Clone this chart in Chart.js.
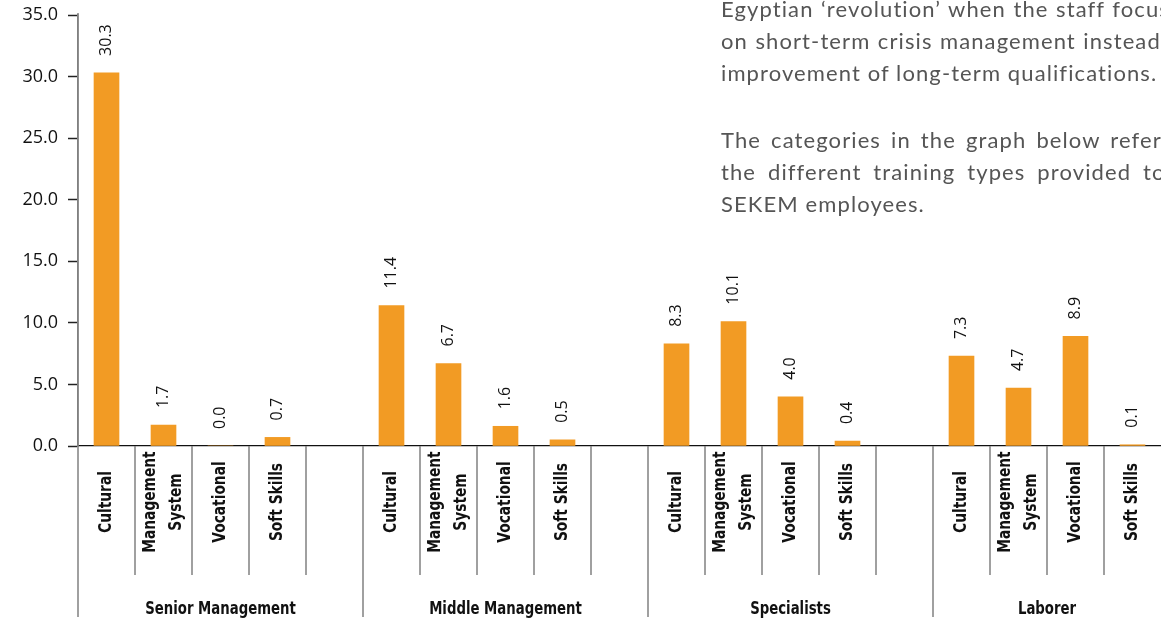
<!DOCTYPE html>
<html>
<head>
<meta charset="utf-8">
<script src="https://cdn.jsdelivr.net/npm/chart.js@4.4.1/dist/chart.umd.min.js"></script>
<style>
  html, body { margin: 0; padding: 0; background: #fff; overflow: hidden; }
  #wrap { position: absolute; left: 0; top: 0; width: 1161px; height: 620px; }
  .txt { position: absolute; left: 721px; white-space: nowrap; font-family: Lato, sans-serif;
         font-size: 22px; letter-spacing: 1.1px; line-height: 32px; color: #555; }
</style>
</head>
<body>
<div id="wrap"><canvas id="trainingChart"></canvas></div>
<div class="txt" style="top:-7px;" data-last="1112">Egyptian ‘revolution’ when the staff focused</div>
<div class="txt" style="top:25px;" data-last="1083">on short-term crisis management instead</div>
<div class="txt" style="top:57px;">improvement of long-term qualifications.</div>
<div class="txt" style="top:124px;" data-last="1110">The categories in the graph below refer</div>
<div class="txt" style="top:156px;" data-last="1143">the different training types provided to</div>
<div class="txt" style="top:188px;">SEKEM employees.</div>
<script>
document.addEventListener("DOMContentLoaded", function () {
    const groups = ['Senior Management', 'Middle Management', 'Specialists', 'Laborer'];
    const trainingTypes = ['Cultural', ['Management', 'System'], 'Vocational', 'Soft Skills'];
    const seniorValues = [30.3, 1.7, 0.0, 0.7];
    const middleValues = [11.4, 6.7, 1.6, 0.5];
    const specialistValues = [8.3, 10.1, 4.0, 0.4];
    const laborerValues = [7.3, 4.7, 8.9, 0.1];
    const yTicks = [0, 5, 10, 15, 20, 25, 30, 35];

    const groupValues = [seniorValues, middleValues, specialistValues, laborerValues];

    // justified paragraph lines: stretch the word gaps so the last word lands where it does in the page
    document.querySelectorAll('.txt[data-last]').forEach(function (el) {
        const words = el.textContent.split(' ');
        const lastWord = words.pop();
        el.textContent = words.join(' ') + ' ';
        const span = document.createElement('span');
        span.textContent = lastWord;
        el.appendChild(span);
        const target = Number(el.dataset.last) - 721;
        const extra = (target - span.offsetLeft) / words.length;
        el.style.wordSpacing = extra + 'px';
    });

    // flatten into slots, with an empty spacer slot between groups
    const labels = [];
    const values = [];
    const groupOf = [];
    groups.forEach(function (g, gi) {
        trainingTypes.forEach(function (t, ti) {
            labels.push(t);
            values.push(groupValues[gi][ti]);
            groupOf.push(gi);
        });
        if (gi < groups.length - 1) {
            labels.push('');
            values.push(null);
            groupOf.push(gi);
        }
    });

    const condensed = '"Liberation Sans Narrow", "DejaVu Sans Condensed", sans-serif';
    const lineColor = '#808080';

    const valueLabels = {
        id: 'valueLabels',
        afterDatasetsDraw(chart) {
            const ctx = chart.ctx;
            const meta = chart.getDatasetMeta(0);
            ctx.save();
            ctx.font = '16px "Open Sans", sans-serif';
            ctx.fillStyle = '#111';
            ctx.textAlign = 'left';
            ctx.textBaseline = 'middle';
            meta.data.forEach(function (bar, i) {
                const v = chart.data.datasets[0].data[i];
                if (v === null) return;
                ctx.save();
                ctx.translate(bar.x, bar.y - 17);
                ctx.rotate(-Math.PI / 2);
                ctx.fillText(v.toFixed(1), 0, 0);
                ctx.restore();
            });
            ctx.restore();
        }
    };

    const categoryAxis = {
        id: 'categoryAxis',
        afterDraw(chart) {
            const ctx = chart.ctx;
            const x = chart.scales.x;
            const area = chart.chartArea;
            const n = labels.length;
            ctx.save();
            ctx.strokeStyle = lineColor;
            ctx.lineWidth = 1.5;

            // left axis continues down to the group labels
            ctx.beginPath();
            ctx.moveTo(area.left, area.top - 2);
            ctx.lineTo(area.left, 617);
            ctx.stroke();

            for (let i = 0; i < n - 1; i++) {
                const bx = (x.getPixelForValue(i) + x.getPixelForValue(i + 1)) / 2;
                const isGroupEdge = groupOf[i] !== groupOf[i + 1];
                ctx.beginPath();
                ctx.moveTo(bx, area.bottom);
                ctx.lineTo(bx, isGroupEdge ? 617 : 575);
                ctx.stroke();
            }

            // rotated training type labels
            ctx.fillStyle = '#111';
            ctx.font = 'bold 17px ' + condensed;
            ctx.textAlign = 'center';
            ctx.textBaseline = 'middle';
            labels.forEach(function (lab, i) {
                if (lab === '') return;
                const lines = Array.isArray(lab) ? lab : [lab];
                const cx = x.getPixelForValue(i);
                ctx.save();
                ctx.translate(cx, 502);
                ctx.rotate(-Math.PI / 2);
                ctx.scale(0.9, 1);
                lines.forEach(function (ln, li) {
                    const off = (li - (lines.length - 1) / 2) * 26;
                    ctx.fillText(ln, 0, off);
                });
                ctx.restore();
            });

            // group names
            ctx.font = 'bold 18px ' + condensed;
            ctx.textBaseline = 'alphabetic';
            groups.forEach(function (g, gi) {
                const first = groupOf.indexOf(gi);
                const last = groupOf.lastIndexOf(gi);
                const left = first === 0 ? area.left : (x.getPixelForValue(first - 1) + x.getPixelForValue(first)) / 2;
                const right = last === n - 1 ? area.right : (x.getPixelForValue(last) + x.getPixelForValue(last + 1)) / 2;
                ctx.save();
                ctx.translate((left + right) / 2, 614);
                ctx.scale(0.82, 1);
                ctx.fillText(g, 0, 0);
                ctx.restore();
            });
            ctx.restore();
        }
    };

    new Chart(document.getElementById('trainingChart'), {
        type: 'bar',
        data: {
            labels: labels,
            datasets: [{
                data: values,
                backgroundColor: '#F29B24',
                borderWidth: 0,
                barThickness: 25
            }]
        },
        options: {
            responsive: true,
            maintainAspectRatio: false,
            animation: false,
            layout: {
                padding: { top: 15, left: 0, right: 0, bottom: 0 }
            },
            plugins: {
                legend: { display: false },
                tooltip: { enabled: false }
            },
            scales: {
                x: {
                    grid: { display: false },
                    border: { display: true, color: '#111', width: 1.2 },
                    ticks: { display: false },
                    afterFit: function (scale) { scale.height = 174; }
                },
                y: {
                    min: 0,
                    max: 35,
                    afterBuildTicks: function (scale) {
                        scale.ticks = yTicks.map(function (v) { return { value: v }; });
                    },
                    afterFit: function (scale) {
                        scale.width = 78;
                        scale.paddingTop = 0;
                        scale.paddingBottom = 0;
                    },
                    grid: {
                        display: true,
                        drawOnChartArea: false,
                        drawTicks: true,
                        tickLength: 10,
                        tickColor: '#222',
                        tickWidth: 1.5
                    },
                    border: { display: true, color: lineColor, width: 1.5 },
                    ticks: {
                        padding: 10,
                        color: '#111',
                        font: { family: '"Open Sans", sans-serif', size: 18 },
                        callback: function (v) { return Number(v).toFixed(1); }
                    }
                }
            }
        },
        plugins: [valueLabels, categoryAxis]
    });
});
</script>
</body>
</html>
